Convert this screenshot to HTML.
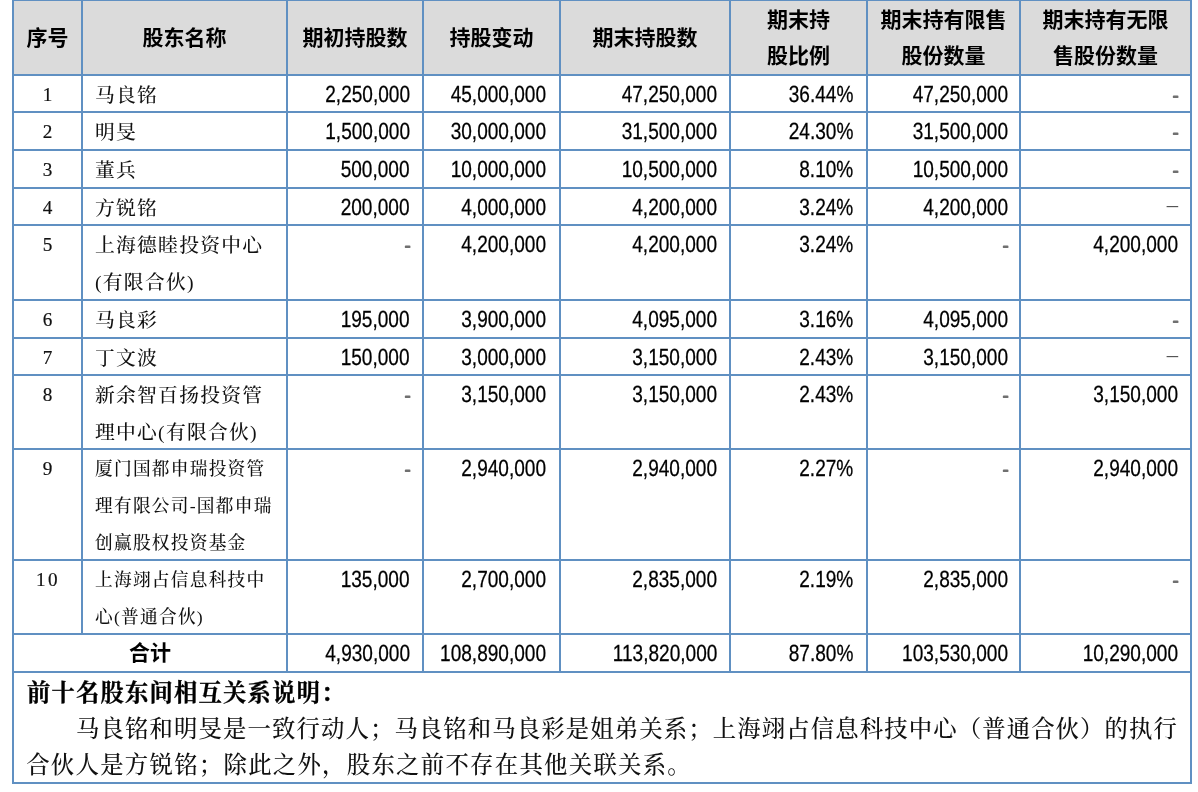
<!DOCTYPE html>
<html lang="zh-CN"><head><meta charset="utf-8"><title>前十名股东持股情况</title>
<style>
html,body{margin:0;padding:0;background:#fff;}
body{width:1198px;height:792px;position:relative;overflow:hidden;}
.a{position:absolute;white-space:nowrap;}
.v{position:absolute;width:2px;background:#6090c2;}
.h{position:absolute;height:2px;background:#6090c2;}
.hd{font-family:"Liberation Sans","Noto Sans CJK SC",sans-serif;font-weight:bold;font-size:21px;color:#000;text-align:center;line-height:36px;}
.nm{font-family:"Liberation Serif","Noto Serif CJK SC",serif;font-size:19.8px;letter-spacing:1.25px;font-weight:500;color:#111;line-height:37px;}
.sm{font-size:17.7px;letter-spacing:1.25px;}
.sq{font-family:"Liberation Serif","Noto Serif CJK SC",serif;font-size:19.2px;-webkit-text-stroke:0.2px #111;color:#111;text-align:center;line-height:37px;}
.n{font-family:"Liberation Sans",sans-serif;font-size:23.4px;color:#000;line-height:30px;height:30px;text-align:right;text-rendering:geometricPrecision;-webkit-text-stroke:0.27px #000;transform:scaleX(0.815);transform-origin:100% 50%;}
.d{color:#707070;-webkit-text-stroke:0.5px #707070;text-shadow:0.4px 0 0 #707070,-0.4px 0 0 #707070;}
.ld{font-family:"Liberation Serif",serif;font-size:22.6px;color:#555;line-height:30px;height:30px;}
.nt{font-family:"Liberation Serif","Noto Serif CJK SC",serif;font-size:23.4px;letter-spacing:1.1px;font-weight:500;color:#111;line-height:36px;}
.nb{font-weight:700;color:#000;-webkit-text-stroke:0.3px #000;}
.sq{letter-spacing:0;}
</style></head><body>
<div class="a" style="left:13px;top:0;width:1178px;height:75px;background:#dbdbdb"></div>
<div class="h" style="left:12px;top:-1px;width:1180px"></div>
<div class="h" style="left:12px;top:74px;width:1180px"></div>
<div class="h" style="left:12px;top:111px;width:1180px"></div>
<div class="h" style="left:12px;top:149px;width:1180px"></div>
<div class="h" style="left:12px;top:187px;width:1180px"></div>
<div class="h" style="left:12px;top:224px;width:1180px"></div>
<div class="h" style="left:12px;top:299px;width:1180px"></div>
<div class="h" style="left:12px;top:337px;width:1180px"></div>
<div class="h" style="left:12px;top:374px;width:1180px"></div>
<div class="h" style="left:12px;top:448px;width:1180px"></div>
<div class="h" style="left:12px;top:559px;width:1180px"></div>
<div class="h" style="left:12px;top:633px;width:1180px"></div>
<div class="h" style="left:12px;top:671px;width:1180px"></div>
<div class="h" style="left:12px;top:782px;width:1180px"></div>
<div class="v" style="left:12px;top:0;height:784px"></div>
<div class="v" style="left:81px;top:0;height:634px"></div>
<div class="v" style="left:286px;top:0;height:671px"></div>
<div class="v" style="left:422px;top:0;height:671px"></div>
<div class="v" style="left:559px;top:0;height:671px"></div>
<div class="v" style="left:729px;top:0;height:671px"></div>
<div class="v" style="left:866px;top:0;height:671px"></div>
<div class="v" style="left:1019px;top:0;height:671px"></div>
<div class="v" style="left:1190px;top:0;height:784px"></div>
<div class="a hd" style="left:14px;width:67px;top:20px">序号</div>
<div class="a hd" style="left:83px;width:203px;top:20px">股东名称</div>
<div class="a hd" style="left:288px;width:134px;top:20px">期初持股数</div>
<div class="a hd" style="left:424px;width:135px;top:20px">持股变动</div>
<div class="a hd" style="left:561px;width:168px;top:20px">期末持股数</div>
<div class="a hd" style="left:731px;width:135px;top:2px">期末持<br>股比例</div>
<div class="a hd" style="left:868px;width:151px;top:2px">期末持有限售<br>股份数量</div>
<div class="a hd" style="left:1021px;width:169px;top:2px">期末持有无限<br>售股份数量</div>
<div class="a sq" style="left:14px;width:67px;top:76px">1</div>
<div class="a nm" style="left:95px;top:77px">马良铭</div>
<div class="a n" style="right:788.0px;top:79px">2,250,000</div>
<div class="a n" style="right:652.0px;top:79px">45,000,000</div>
<div class="a n" style="right:481.1px;top:79px">47,250,000</div>
<div class="a n" style="right:345.0px;top:79px">36.44%</div>
<div class="a n" style="right:190.2px;top:79px">47,250,000</div>
<div class="a n d" style="right:19.4px;top:80px">-</div>
<div class="a sq" style="left:14px;width:67px;top:113px">2</div>
<div class="a nm" style="left:95px;top:114px">明旻</div>
<div class="a n" style="right:788.0px;top:116px">1,500,000</div>
<div class="a n" style="right:652.0px;top:116px">30,000,000</div>
<div class="a n" style="right:481.1px;top:116px">31,500,000</div>
<div class="a n" style="right:345.0px;top:116px">24.30%</div>
<div class="a n" style="right:190.2px;top:116px">31,500,000</div>
<div class="a n d" style="right:19.4px;top:117px">-</div>
<div class="a sq" style="left:14px;width:67px;top:151px">3</div>
<div class="a nm" style="left:95px;top:152px">董兵</div>
<div class="a n" style="right:788.0px;top:154px">500,000</div>
<div class="a n" style="right:652.0px;top:154px">10,000,000</div>
<div class="a n" style="right:481.1px;top:154px">10,500,000</div>
<div class="a n" style="right:345.0px;top:154px">8.10%</div>
<div class="a n" style="right:190.2px;top:154px">10,500,000</div>
<div class="a n d" style="right:19.4px;top:155px">-</div>
<div class="a sq" style="left:14px;width:67px;top:189px">4</div>
<div class="a nm" style="left:95px;top:190px">方锐铭</div>
<div class="a n" style="right:788.0px;top:192px">200,000</div>
<div class="a n" style="right:652.0px;top:192px">4,000,000</div>
<div class="a n" style="right:481.1px;top:192px">4,200,000</div>
<div class="a n" style="right:345.0px;top:192px">3.24%</div>
<div class="a n" style="right:190.2px;top:192px">4,200,000</div>
<div class="a ld" style="right:19.9px;top:190.3px">–</div>
<div class="a sq" style="left:14px;width:67px;top:226px">5</div>
<div class="a nm" style="left:95px;top:227px">上海德睦投资中心<br>(有限合伙)</div>
<div class="a n d" style="right:787.5px;top:230px">-</div>
<div class="a n" style="right:652.0px;top:229px">4,200,000</div>
<div class="a n" style="right:481.1px;top:229px">4,200,000</div>
<div class="a n" style="right:345.0px;top:229px">3.24%</div>
<div class="a n d" style="right:189.7px;top:230px">-</div>
<div class="a n" style="right:19.9px;top:229px">4,200,000</div>
<div class="a sq" style="left:14px;width:67px;top:301px">6</div>
<div class="a nm" style="left:95px;top:302px">马良彩</div>
<div class="a n" style="right:788.0px;top:304px">195,000</div>
<div class="a n" style="right:652.0px;top:304px">3,900,000</div>
<div class="a n" style="right:481.1px;top:304px">4,095,000</div>
<div class="a n" style="right:345.0px;top:304px">3.16%</div>
<div class="a n" style="right:190.2px;top:304px">4,095,000</div>
<div class="a n d" style="right:19.4px;top:305px">-</div>
<div class="a sq" style="left:14px;width:67px;top:339px">7</div>
<div class="a nm" style="left:95px;top:340px">丁文波</div>
<div class="a n" style="right:788.0px;top:342px">150,000</div>
<div class="a n" style="right:652.0px;top:342px">3,000,000</div>
<div class="a n" style="right:481.1px;top:342px">3,150,000</div>
<div class="a n" style="right:345.0px;top:342px">2.43%</div>
<div class="a n" style="right:190.2px;top:342px">3,150,000</div>
<div class="a ld" style="right:19.9px;top:340.3px">–</div>
<div class="a sq" style="left:14px;width:67px;top:376px">8</div>
<div class="a nm" style="left:95px;top:377px">新余智百扬投资管<br>理中心(有限合伙)</div>
<div class="a n d" style="right:787.5px;top:380px">-</div>
<div class="a n" style="right:652.0px;top:379px">3,150,000</div>
<div class="a n" style="right:481.1px;top:379px">3,150,000</div>
<div class="a n" style="right:345.0px;top:379px">2.43%</div>
<div class="a n d" style="right:189.7px;top:380px">-</div>
<div class="a n" style="right:19.9px;top:379px">3,150,000</div>
<div class="a sq sm" style="left:14px;width:67px;top:450px">9</div>
<div class="a nm sm" style="left:95px;top:451px">厦门国都申瑞投资管<br>理有限公司-国都申瑞<br>创赢股权投资基金</div>
<div class="a n d" style="right:787.5px;top:454px">-</div>
<div class="a n" style="right:652.0px;top:453px">2,940,000</div>
<div class="a n" style="right:481.1px;top:453px">2,940,000</div>
<div class="a n" style="right:345.0px;top:453px">2.27%</div>
<div class="a n d" style="right:189.7px;top:454px">-</div>
<div class="a n" style="right:19.9px;top:453px">2,940,000</div>
<div class="a sq sm" style="left:14px;width:67px;top:561px;letter-spacing:2.5px;text-indent:1.2px">10</div>
<div class="a nm sm" style="left:95px;top:562px">上海翊占信息科技中<br>心(普通合伙)</div>
<div class="a n" style="right:788.0px;top:564px">135,000</div>
<div class="a n" style="right:652.0px;top:564px">2,700,000</div>
<div class="a n" style="right:481.1px;top:564px">2,835,000</div>
<div class="a n" style="right:345.0px;top:564px">2.19%</div>
<div class="a n" style="right:190.2px;top:564px">2,835,000</div>
<div class="a n d" style="right:19.4px;top:565px">-</div>
<div class="a hd" style="left:14px;width:272px;top:635px">合计</div>
<div class="a n" style="right:788.0px;top:638px">4,930,000</div>
<div class="a n" style="right:652.0px;top:638px">108,890,000</div>
<div class="a n" style="right:481.1px;top:638px">113,820,000</div>
<div class="a n" style="right:345.0px;top:638px">87.80%</div>
<div class="a n" style="right:190.2px;top:638px">103,530,000</div>
<div class="a n" style="right:19.9px;top:638px">10,290,000</div>
<div class="a nt nb" style="left:27px;top:674.5px">前十名股东间相互关系说明：</div>
<div class="a nt" style="left:76px;top:711px">马良铭和明旻是一致行动人；马良铭和马良彩是姐弟关系；上海翊占信息科技中心（普通合伙）的执行</div>
<div class="a nt" style="left:26.2px;top:747px;letter-spacing:1.27px">合伙人是方锐铭；除此之外，股东之前不存在其他关联关系。</div>
</body></html>
